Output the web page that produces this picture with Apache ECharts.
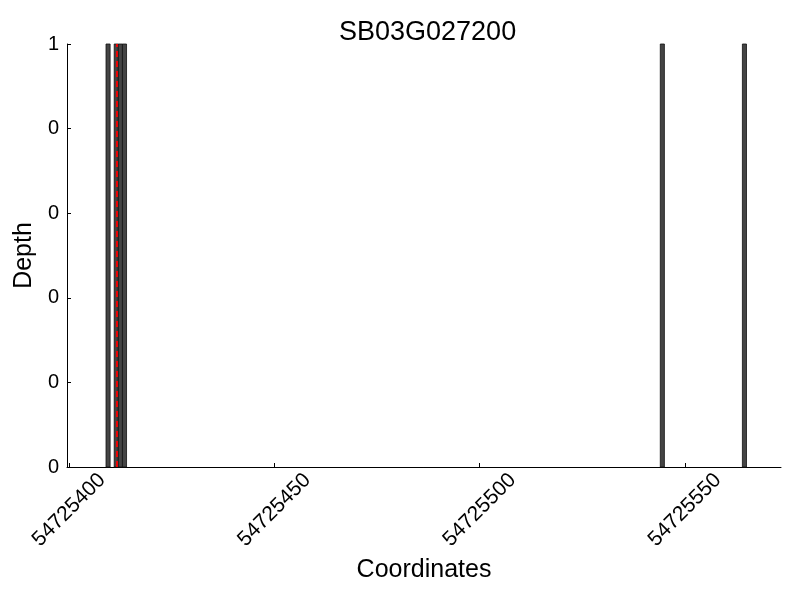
<!DOCTYPE html>
<html>
<head>
<meta charset="utf-8">
<script src="https://cdn.jsdelivr.net/npm/echarts@6/dist/echarts.min.js"></script>
<style>html,body{margin:0;padding:0;background:#fff}#c{width:800px;height:600px}</style>
</head>
<body>
<div id="c"></div>
<script>
var barStarts = [54725409, 54725411, 54725412, 54725413, 54725544, 54725564];
var depths = [1, 1, 1, 1, 1, 1];
var markerPos = [54725411.6];
var xTicks = [54725400, 54725450, 54725500, 54725550];
var yTicks = [0, 0.2, 0.4, 0.6, 0.8, 1];
var yTickLabels = ["0", "0", "0", "0", "0", "1"];
var titleText = "SB03G027200";

var FONT = "Liberation Sans";
var chart = echarts.init(document.getElementById('c'), null, {renderer: 'canvas'});
var data = barStarts.map(function (x, i) { return [x, depths[i]]; });

chart.setOption({
  animation: false,
  backgroundColor: '#fff',
  title: {
    text: titleText, left: 334, top: 14,
    textStyle: {fontFamily: FONT, fontSize: 27, fontWeight: 'normal', color: '#000'}
  },
  grid: {left: 67, right: 19, top: 44, bottom: 133},
  xAxis: {
    type: 'value', min: 54725399.5, max: 54725573.4,
    name: 'Coordinates', nameLocation: 'middle', nameGap: 91,
    nameTextStyle: {fontFamily: FONT, fontSize: 25, color: '#000'},
    splitLine: {show: false},
    axisLine: {show: true, onZero: false, lineStyle: {color: '#000', width: 1}},
    axisTick: {show: true, inside: true, length: 4, customValues: xTicks, lineStyle: {color: '#000'}},
    axisLabel: {
      customValues: xTicks, rotate: 45, align: 'center', verticalAlign: 'middle', margin: 43,
      fontFamily: FONT, fontSize: 21, color: '#000',
      formatter: function (v) { return String(Math.round(v)); }
    }
  },
  yAxis: {
    type: 'value', min: 0, max: 1,
    name: 'Depth', nameLocation: 'middle', nameGap: 25,
    nameTextStyle: {fontFamily: FONT, fontSize: 25, color: '#000'},
    splitLine: {show: false},
    axisLine: {show: true, lineStyle: {color: '#000', width: 1}},
    axisTick: {show: true, inside: true, length: 4, customValues: yTicks, lineStyle: {color: '#000'}},
    axisLabel: {
      customValues: yTicks, margin: 8, fontFamily: FONT, fontSize: 20, color: '#000',
      formatter: function (v) {
        var i = yTicks.indexOf(Math.round(v * 10) / 10);
        return i >= 0 ? yTickLabels[i] : '';
      }
    }
  },
  series: [{
    type: 'custom',
    data: data,
    encode: {x: 0, y: 1},
    renderItem: function (params, api) {
      var x = api.value(0), y = api.value(1);
      var p1 = api.coord([x, y]);
      var p2 = api.coord([x + 1, 0]);
      return {
        type: 'rect',
        shape: {x: p1[0], y: p1[1], width: p2[0] - p1[0], height: p2[1] - p1[1]},
        style: {fill: '#444', stroke: '#111', lineWidth: 0.8}
      };
    },
    markLine: {
      silent: true, symbol: ['none', 'none'], label: {show: false},
      lineStyle: {color: '#ff0000', type: [6, 4], width: 1.8},
      data: markerPos.map(function (v) { return {xAxis: v}; })
    }
  }]
});
</script>
</body>
</html>
